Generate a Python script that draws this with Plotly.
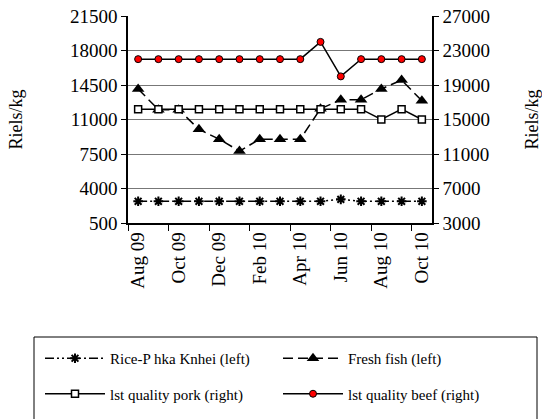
import plotly.graph_objects as go

# monthly prices, Aug 09 - Oct 10
months = ["Aug 09", "Sep 09", "Oct 09", "Nov 09", "Dec 09", "Jan 10", "Feb 10", "Mar 10",
          "Apr 10", "May 10", "Jun 10", "Jul 10", "Aug 10", "Sep 10", "Oct 10"]
rice = [2700, 2700, 2700, 2700, 2700, 2700, 2700, 2700, 2700, 2700, 2900, 2700, 2700, 2700, 2700]
fish = [14100, 12000, 12000, 10000, 9000, 7800, 9000, 9000, 9000, 12100, 13000, 13000, 14100, 15000, 12900]
pork = [16200, 16200, 16200, 16200, 16200, 16200, 16200, 16200, 16200, 16200, 16200, 16200, 15000, 16200, 15000]
beef = [22000, 22000, 22000, 22000, 22000, 22000, 22000, 22000, 22000, 24000, 20000, 22000, 22000, 22000, 22000]

left_ticks = [500, 4000, 7500, 11000, 14500, 18000, 21500]
right_ticks = [3000, 7000, 11000, 15000, 19000, 23000, 27000]

x = list(range(len(months)))
serif = "Liberation Serif"

fig = go.Figure()

fig.add_trace(go.Scatter(
    x=x, y=rice, name="Rice-P hka Knhei (left)", legend="legend", legendgroup="a",
    mode="lines+markers",
    line=dict(color="black", width=1.5, dash="9px,3px,2px,3px,2px,3px"),
    marker=dict(symbol="asterisk-open", size=8, line=dict(color="black", width=2)),
))
fig.add_trace(go.Scatter(
    x=x, y=fish, name="Fresh fish (left)", legend="legend2", legendgroup="b",
    mode="lines+markers",
    line=dict(color="black", width=1.5, dash="10px,5px"),
    marker=dict(symbol="triangle-up", size=11, color="black"),
))
fig.add_trace(go.Scatter(
    x=x, y=pork, name="lst quality pork (right)", yaxis="y2", legend="legend", legendgroup="c",
    mode="lines+markers",
    line=dict(color="black", width=1.5),
    marker=dict(symbol="square", size=7, color="white", line=dict(color="black", width=1.5)),
))
fig.add_trace(go.Scatter(
    x=x, y=beef, name="lst quality beef (right)", yaxis="y2", legend="legend2", legendgroup="d",
    mode="lines+markers",
    line=dict(color="black", width=1.5),
    marker=dict(symbol="circle", size=7, color="red", line=dict(color="black", width=1)),
))

tickfont = dict(family=serif, size=19, color="black")
legfont = dict(family=serif, size=15, color="black")

fig.update_layout(
    width=542, height=419,
    margin=dict(l=128, r=110, t=16, b=196, autoexpand=False),
    paper_bgcolor="white", plot_bgcolor="white",
    font=dict(family=serif, color="black"),
    xaxis=dict(
        range=[-0.5, len(months) - 0.5],
        tickvals=x[::2], ticktext=months[::2],
        tickangle=-90, tickfont=tickfont, ticks="",
        showline=True, linecolor="black", linewidth=1.5,
        showgrid=False, zeroline=False, automargin=False,
        minor=dict(tick0=-0.5, dtick=2, ticks="outside", ticklen=6, tickcolor="black", showgrid=False),
    ),
    yaxis=dict(
        range=[left_ticks[0], left_ticks[-1]], tickvals=left_ticks, tickformat="d",
        tickfont=tickfont, ticks="outside", ticklen=5, tickcolor="black",
        showline=True, linecolor="black", linewidth=1.5,
        showgrid=True, gridcolor="#777", gridwidth=1, zeroline=False, automargin=False,
        title=dict(text="Riels/kg", font=dict(family=serif, size=18), standoff=43),
    ),
    yaxis2=dict(
        range=[right_ticks[0], right_ticks[-1]], tickvals=right_ticks, tickformat="d",
        overlaying="y", side="right",
        tickfont=tickfont, ticks="outside", ticklen=5, tickcolor="black",
        showline=True, linecolor="black", linewidth=1.5,
        showgrid=False, zeroline=False, automargin=False,
        title=dict(text="Riels/kg", font=dict(family=serif, size=18), standoff=36),
    ),
    showlegend=True,
    legend=dict(
        x=(40 - 128) / 304, y=(223 - 342) / 207, xanchor="left", yanchor="top",
        itemwidth=60, tracegroupgap=13, font=legfont, bgcolor="rgba(0,0,0,0)",
    ),
    legend2=dict(
        x=(278 - 128) / 304, y=(223 - 342) / 207, xanchor="left", yanchor="top",
        itemwidth=60, tracegroupgap=13, font=legfont, bgcolor="rgba(0,0,0,0)",
    ),
    shapes=[dict(
        type="rect", xref="paper", yref="paper",
        x0=(34 - 128) / 304, x1=(537 - 128) / 304,
        y0=(223 - 337) / 207, y1=(223 - 440) / 207,
        line=dict(color="black", width=1),
    )],
)

# page body has a default 8px margin; drop it so the figure sits at the window origin
fig.write_html("out.html", config={"displayModeBar": False},
               post_script="document.body.style.margin='0';")
